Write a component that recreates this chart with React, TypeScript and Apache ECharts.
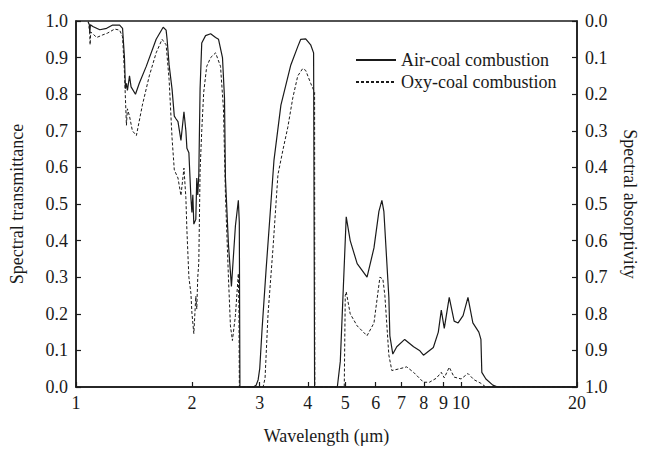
import React, { useEffect, useRef } from "react";
import * as echarts from "echarts";

const xTicks = [1, 2, 3, 4, 5, 6, 7, 8, 9, 10, 20];

const airWavelength = [
  1.075, 1.083, 1.086, 1.09, 1.106, 1.153, 1.201, 1.245, 1.298, 1.321, 1.336, 1.344, 1.352, 1.36, 1.377, 1.39,
  1.427, 1.46, 1.522, 1.615, 1.684, 1.714, 1.724, 1.745, 1.776, 1.8, 1.818, 1.84, 1.873, 1.907, 1.929, 1.941,
  1.964, 1.988, 2.0, 2.011, 2.023, 2.047, 2.059, 2.071, 2.084, 2.1, 2.121, 2.17, 2.237, 2.304, 2.345, 2.401,
  2.43, 2.444, 2.488, 2.533, 2.594, 2.64, 2.655, 2.665, 2.886, 2.937, 2.972, 3.0, 3.043, 3.116, 3.191, 3.267,
  3.405, 3.613, 3.766, 3.834, 3.949, 4.068, 4.14, 4.165, 4.771, 4.857, 5.032, 5.153, 5.372, 5.699, 5.94, 6.118,
  6.228, 6.302, 6.493, 6.532, 6.648, 6.808, 7.138, 7.529, 7.798, 7.986, 8.472, 8.727, 8.884, 9.044, 9.316, 9.594,
  9.824, 10.12, 10.42, 10.73, 11.12, 11.26, 11.32, 11.6, 12.09, 12.45, 20,
];
const airTransmittance = [
  0.998, 0.99, 0.967, 0.99, 0.985, 0.976, 0.98, 0.989, 0.989, 0.98, 0.9, 0.815, 0.83, 0.81, 0.85, 0.82,
  0.8, 0.83, 0.876, 0.95, 0.983, 0.975, 0.95, 0.88, 0.814, 0.74, 0.733, 0.725, 0.674, 0.752, 0.7, 0.652,
  0.64, 0.517, 0.477, 0.525, 0.445, 0.458, 0.571, 0.525, 0.58, 0.814, 0.94, 0.96, 0.965, 0.955, 0.95, 0.9,
  0.79, 0.57, 0.39, 0.275, 0.44, 0.51, 0.45, 0.0, 0.0, 0.005, 0.02, 0.05, 0.16, 0.32, 0.47, 0.62,
  0.77, 0.88, 0.93, 0.95, 0.951, 0.935, 0.913, 0.0, 0.0, 0.07, 0.465, 0.4, 0.337, 0.3, 0.38, 0.48,
  0.51, 0.48, 0.245, 0.14, 0.09, 0.11, 0.13, 0.11, 0.1, 0.087, 0.108, 0.15, 0.21, 0.16, 0.245, 0.18,
  0.175, 0.195, 0.245, 0.175, 0.15, 0.13, 0.04, 0.022, 0.005, 0.0, 0.0,
];

const oxyWavelength = [
  1.08, 1.085, 1.088, 1.092, 1.132, 1.173, 1.208, 1.26, 1.298, 1.321, 1.336, 1.352, 1.36, 1.377, 1.401, 1.435,
  1.487, 1.55, 1.615, 1.673, 1.714, 1.745, 1.776, 1.8, 1.84, 1.873, 1.907, 1.929, 1.941, 1.964, 1.988, 2.0,
  2.023, 2.047, 2.059, 2.071, 2.084, 2.1, 2.121, 2.146, 2.185, 2.237, 2.304, 2.373, 2.415, 2.444, 2.488, 2.518,
  2.548, 2.594, 2.64, 2.65, 2.656, 3.061, 3.097, 3.153, 3.248, 3.345, 3.45, 3.549, 3.656, 3.766, 3.879, 3.949,
  4.068, 4.165, 4.17, 4.973, 5.003, 5.032, 5.153, 5.372, 5.699, 5.94, 6.155, 6.265, 6.34, 6.493, 6.61, 6.93,
  7.223, 7.529, 7.986, 8.276, 8.624, 8.884, 9.044, 9.316, 9.594, 10.0, 10.42, 10.8, 11.26, 11.6, 20,
];
const oxyTransmittance = [
  0.985, 0.975, 0.935, 0.97, 0.955, 0.962, 0.967, 0.978, 0.975, 0.957, 0.86, 0.715, 0.76, 0.74, 0.7, 0.687,
  0.77, 0.85, 0.913, 0.95, 0.935, 0.84, 0.68, 0.593, 0.571, 0.523, 0.598, 0.517, 0.428, 0.3, 0.256, 0.202,
  0.146, 0.248, 0.213, 0.3, 0.34, 0.59, 0.7, 0.805, 0.876, 0.9, 0.913, 0.876, 0.76, 0.525, 0.3, 0.167,
  0.127, 0.195, 0.31, 0.2, 0.0, 0.0, 0.024, 0.2, 0.38, 0.58, 0.65, 0.71, 0.79, 0.85, 0.87, 0.865,
  0.83, 0.805, 0.0, 0.0, 0.25, 0.26, 0.2, 0.167, 0.14, 0.175, 0.3, 0.295, 0.25, 0.087, 0.045, 0.05,
  0.055, 0.04, 0.013, 0.013, 0.024, 0.04, 0.025, 0.054, 0.027, 0.022, 0.037, 0.02, 0.01, 0.0, 0.0,
];

const seriesNames = ["Air-coal combustion", "Oxy-coal combustion"];
const axisNames = { x: "Wavelength (\u03bcm)", left: "Spectral transmittance", right: "Spectral absorptivity" };

const FONT = "Liberation Serif";
const INK = "#1a1a1a";
const FS = 18;

export default function App() {
  const ref = useRef<HTMLDivElement>(null);
  useEffect(() => {
    document.body.style.margin = "0";
    if (!ref.current) return;
    const chart = echarts.init(ref.current, undefined, { renderer: "svg" });
    const zip = (xs: number[], ys: number[]) => xs.map((x, i) => [x, ys[i]]);
    const yAxisCommon = {
      type: "value" as const,
      min: 0,
      max: 1,
      interval: 0.1,
      axisLine: { show: true, lineStyle: { color: INK, width: 1.5 } },
      axisTick: { show: true, inside: true, length: 5, lineStyle: { color: INK, width: 1.2 } },
      axisLabel: { color: INK, fontFamily: FONT, fontSize: FS, margin: 8, formatter: (v: number) => v.toFixed(1) },
      splitLine: { show: false },
      nameLocation: "middle" as const,
      nameTextStyle: { color: INK, fontFamily: FONT, fontSize: FS },
    };
    chart.setOption({
      animation: false,
      backgroundColor: "#ffffff",
      textStyle: { fontFamily: FONT },
      grid: { left: 76, right: 65, top: 21, bottom: 58, show: true, borderColor: INK, borderWidth: 1.5 },
      legend: {
        orient: "vertical",
        left: 355,
        top: 50,
        padding: 0,
        itemWidth: 40,
        itemHeight: 14,
        itemGap: 2,
        itemStyle: { opacity: 0 },
        textStyle: { color: INK, fontFamily: FONT, fontSize: FS, lineHeight: 20 },
        data: seriesNames,
      },
      xAxis: {
        type: "log",
        logBase: 10,
        min: 1,
        max: 20,
        name: axisNames.x,
        nameLocation: "middle",
        nameGap: 40,
        nameTextStyle: { color: INK, fontFamily: FONT, fontSize: FS },
        axisLine: { show: true, lineStyle: { color: INK, width: 1.5 } },
        axisTick: { show: true, inside: true, length: 5, customValues: xTicks, lineStyle: { color: INK, width: 1.2 } },
        axisLabel: { color: INK, fontFamily: FONT, fontSize: FS, margin: 7, customValues: xTicks },
        splitLine: { show: false },
        minorTick: { show: false },
      },
      yAxis: [
        { ...yAxisCommon, position: "left", name: axisNames.left, nameGap: 50 },
        { ...yAxisCommon, position: "right", inverse: true, name: axisNames.right, nameGap: 44, nameRotate: -90 },
      ],
      series: [
        {
          name: seriesNames[0],
          type: "line",
          yAxisIndex: 0,
          symbol: "none",
          data: zip(airWavelength, airTransmittance),
          lineStyle: { color: INK, width: 1.2, type: "solid" },
          itemStyle: { color: INK },
        },
        {
          name: seriesNames[1],
          type: "line",
          yAxisIndex: 0,
          symbol: "none",
          data: zip(oxyWavelength, oxyTransmittance),
          lineStyle: { color: INK, width: 1, type: [3, 2] },
          itemStyle: { color: INK },
        },
      ],
    });
    return () => chart.dispose();
  }, []);
  return <div ref={ref} style={{ width: 647, height: 450 }} />;
}
